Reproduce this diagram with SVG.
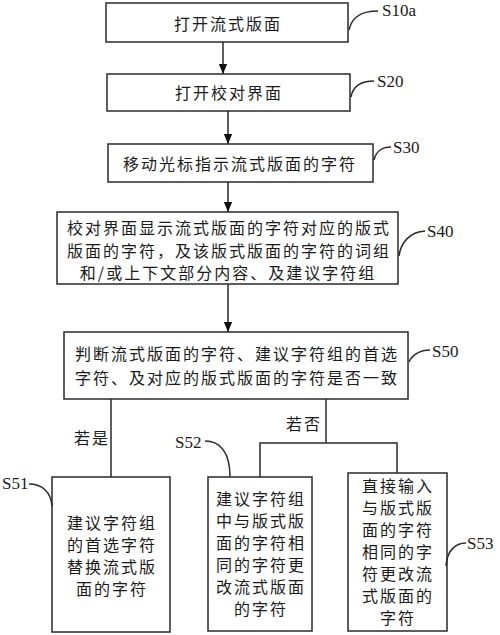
<svg xmlns="http://www.w3.org/2000/svg" width="500" height="635" viewBox="0 0 500 635">
<defs>
<style>
.box{fill:#fff;stroke:#2a2a2a;stroke-width:1.5}
.t{font-family:"Noto Sans CJK SC","Noto Sans",sans-serif;font-size:16px;letter-spacing:2px;fill:#1a1a1a;text-anchor:middle;dominant-baseline:central}
.lbl{font-family:"Liberation Serif",serif;font-size:17px;fill:#1a1a1a}
.ln{fill:none;stroke:#2a2a2a;stroke-width:1.5}
</style>
<marker id="arr" markerWidth="10" markerHeight="12" refX="12" refY="5" orient="auto" markerUnits="userSpaceOnUse" viewBox="0 0 12 10">
<path d="M0,0 L12,5 L0,10 Z" fill="#111"/>
</marker>
</defs>
<g id="connectors">
<line class="ln" x1="223" y1="42" x2="223" y2="74" marker-end="url(#arr)"/>
<line class="ln" x1="228" y1="111" x2="228" y2="144" marker-end="url(#arr)"/>
<line class="ln" x1="228" y1="182" x2="228" y2="212" marker-end="url(#arr)"/>
<line class="ln" x1="228" y1="284" x2="228" y2="332" marker-end="url(#arr)"/>
<line class="ln" x1="111" y1="399" x2="111" y2="477"/>
<polyline class="ln" points="326,399 326,443"/>
<polyline class="ln" points="260,477 260,443 397,443 397,473"/>
<text class="t" x="92" y="437">若是</text>
<text class="t" x="304" y="423">若否</text>
</g>
<g id="S10a">
<rect class="box" x="106" y="3" width="242" height="39"/>
<text class="t" x="228" y="23">打开流式版面</text>
<path class="ln" d="M349,30 C352,16 362,11 378,11"/>
<text class="lbl" x="382" y="16">S10a</text>
</g>
<g id="S20">
<rect class="box" x="107" y="74" width="243" height="37"/>
<text class="t" x="229" y="92">打开校对界面</text>
<path class="ln" d="M351,97 C353,86 362,81 374,81"/>
<text class="lbl" x="377" y="87">S20</text>
</g>
<g id="S30">
<rect class="box" x="108" y="144" width="265" height="38"/>
<text class="t" x="240" y="163">移动光标指示流式版面的字符</text>
<path class="ln" d="M374,160 C376,151 383,147 391,147"/>
<text class="lbl" x="393" y="153">S30</text>
</g>
<g id="S40">
<rect class="box" x="57" y="212" width="341" height="72"/>
<text class="t" x="229" y="227">校对界面显示流式版面的字符对应的版式</text>
<text class="t" x="229" y="250">版面的字符，及该版式版面的字符的词组</text>
<text class="t" x="228" y="272">和/或上下文部分内容、及建议字符组</text>
<path class="ln" d="M399,256 C401,242 410,232 425,231"/>
<text class="lbl" x="427" y="237">S40</text>
</g>
<g id="S50">
<rect class="box" x="64" y="332" width="344" height="67"/>
<text class="t" x="237" y="353">判断流式版面的字符、建议字符组的首选</text>
<text class="t" x="237" y="377">字符、及对应的版式版面的字符是否一致</text>
<path class="ln" d="M409,362 C412,355 420,350 430,350"/>
<text class="lbl" x="432" y="357">S50</text>
</g>
<g id="S51">
<rect class="box" x="52" y="477" width="118" height="155"/>
<text class="t" x="112" y="522">建议字符组</text>
<text class="t" x="112" y="544">的首选字符</text>
<text class="t" x="112" y="566">替换流式版</text>
<text class="t" x="112" y="588">面的字符</text>
<path class="ln" d="M29,484 C42,484 51,492 52,506"/>
<text class="lbl" x="2" y="489">S51</text>
</g>
<g id="S52">
<rect class="box" x="208" y="477" width="104" height="154"/>
<text class="t" x="261" y="498">建议字符组</text>
<text class="t" x="261" y="520">中与版式版</text>
<text class="t" x="261" y="542">面的字符相</text>
<text class="t" x="261" y="564">同的字符更</text>
<text class="t" x="261" y="586">改流式版面</text>
<text class="t" x="261" y="608">的字符</text>
<path class="ln" d="M205,441 C220,441 230,452 230,477"/>
<text class="lbl" x="175" y="448">S52</text>
</g>
<g id="S53">
<rect class="box" x="348" y="473" width="99" height="158"/>
<text class="t" x="398" y="485">直接输入</text>
<text class="t" x="398" y="507">与版式版</text>
<text class="t" x="398" y="529">面的字符</text>
<text class="t" x="398" y="551">相同的字</text>
<text class="t" x="398" y="573">符更改流</text>
<text class="t" x="398" y="595">式版面的</text>
<text class="t" x="398" y="617">字符</text>
<path class="ln" d="M446,566 C447,551 455,543 466,543"/>
<text class="lbl" x="467" y="549">S53</text>
</g>
</svg>
